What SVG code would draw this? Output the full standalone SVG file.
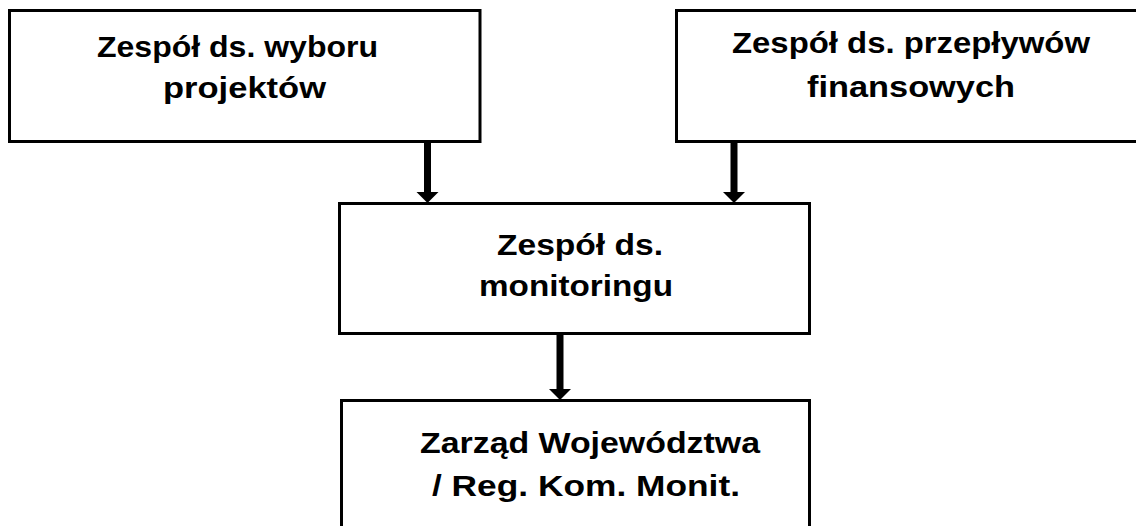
<svg xmlns="http://www.w3.org/2000/svg" width="1136" height="526" viewBox="0 0 1136 526">
<style>
.box{fill:#fff;stroke:#000;stroke-width:3}
.t{font-family:"Liberation Sans",Arial,sans-serif;font-weight:bold;font-size:30px;fill:#000;text-anchor:middle}
.c{stroke:#000;stroke-width:7;fill:none}
</style>
<defs>
<marker id="ahd" markerUnits="userSpaceOnUse" viewBox="0 0 22 11" markerWidth="22" markerHeight="11" refX="11" refY="0" orient="0" overflow="visible">
<path d="M0,0 L22,0 L11,11 Z" fill="#000"/>
</marker>
</defs>
<rect width="1136" height="526" fill="#fff"/>
<g id="connectors">
<line class="c" x1="427.5" y1="142" x2="427.5" y2="192" marker-end="url(#ahd)"/>
<line class="c" x1="734" y1="142" x2="734" y2="192" marker-end="url(#ahd)"/>
<line class="c" x1="560" y1="334" x2="560" y2="389" marker-end="url(#ahd)"/>
</g>
<g id="node-wybor">
<rect class="box" x="9.5" y="10.5" width="470.5" height="131"/>
<text class="t" x="237.5" y="57" textLength="281" lengthAdjust="spacingAndGlyphs">Zespół ds. wyboru</text>
<text class="t" x="244.5" y="98" textLength="163" lengthAdjust="spacingAndGlyphs">projektów</text>
</g>
<g id="node-przeplywy">
<rect class="box" x="676.5" y="10.5" width="470" height="131"/>
<text class="t" x="911" y="53" textLength="358" lengthAdjust="spacingAndGlyphs">Zespół ds. przepływów</text>
<text class="t" x="911" y="97" textLength="208" lengthAdjust="spacingAndGlyphs">finansowych</text>
</g>
<g id="node-monitoring">
<rect class="box" x="339.5" y="203.5" width="470" height="130"/>
<text class="t" x="580" y="255" textLength="166" lengthAdjust="spacingAndGlyphs">Zespół ds.</text>
<text class="t" x="576" y="296" textLength="194" lengthAdjust="spacingAndGlyphs">monitoringu</text>
</g>
<g id="node-zarzad">
<rect class="box" x="341.5" y="400.5" width="468" height="140"/>
<text class="t" x="590" y="453" textLength="340" lengthAdjust="spacingAndGlyphs">Zarząd Województwa</text>
<text class="t" x="586" y="496" textLength="308" lengthAdjust="spacingAndGlyphs">/ Reg. Kom. Monit.</text>
</g>
</svg>
